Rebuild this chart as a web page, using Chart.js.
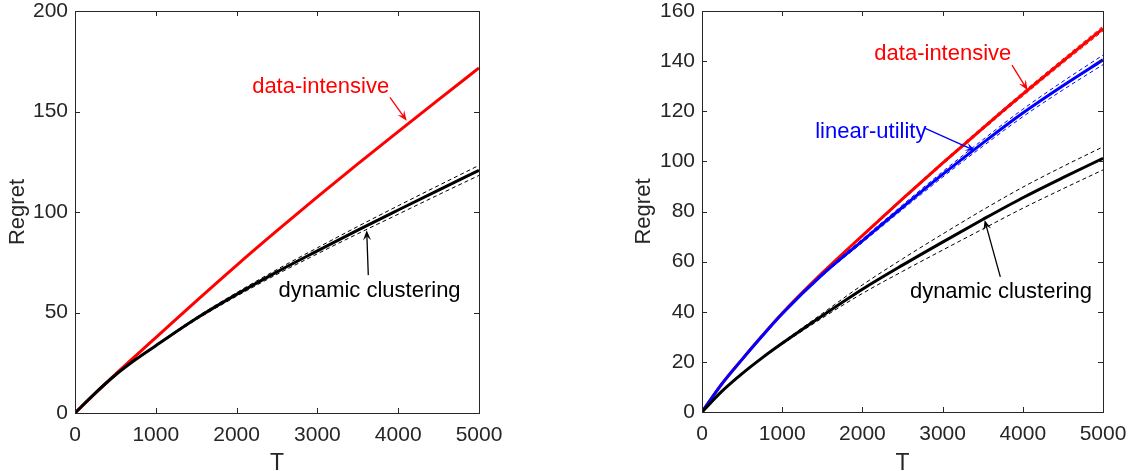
<!DOCTYPE html>
<html>
<head>
<meta charset="utf-8">
<script src="https://cdn.jsdelivr.net/npm/chart.js@4/dist/chart.umd.min.js"></script>
<style>
  body { margin: 0; background: #fff; }
  #wrap { position: relative; width: 1131px; height: 471px; overflow: hidden; }
  #leftChart { position: absolute; left: 0; top: 0; }
  #rightChart { position: absolute; left: 600px; top: 0; }
</style>
</head>
<body>
<div id="wrap">
  <canvas id="leftChart" width="540" height="471"></canvas>
  <canvas id="rightChart" width="531" height="471"></canvas>
</div>
<script>
// horizon T (shared by both panels)
var T = [0, 250, 500, 750, 1000, 1500, 2000, 2500, 3000, 3500, 4000, 4500, 5000];

// left panel
var leftDataIntensive = [0, 9.7, 19.2, 28.4, 37.5, 55.7, 73.5, 90.7, 107.5, 123.9, 140, 155.9, 171.7];
var leftDynamic       = [0, 9.9, 18.9, 26.6, 33.5, 47, 59, 70.2, 80.7, 91, 101, 110.9, 120.7];
var leftDynUpper      = [0, 9.95, 19, 26.8, 33.8, 47.6, 59.9, 71.4, 82.2, 92.8, 103.1, 113.2, 123.2];
var leftDynLower      = [0, 9.85, 18.8, 26.4, 33.2, 46.4, 58.1, 69, 79.2, 89.2, 98.9, 108.6, 118.2];

// right panel
var rightDataIntensive = [0, 11.3, 21, 30.4, 39.4, 55.5, 70.4, 85, 99.3, 113.2, 126.8, 140, 153];
var rightDIUpper       = [0, 11.3, 21.05, 30.5, 39.55, 55.75, 70.75, 85.45, 99.85, 113.85, 127.55, 140.85, 153.95];
var rightDILower       = [0, 11.3, 20.95, 30.3, 39.25, 55.25, 70.05, 84.55, 98.75, 112.55, 126.05, 139.15, 152.05];
var rightLinear        = [0, 11.3, 21, 30.3, 39.2, 54.8, 68.3, 81.7, 94.8, 107.3, 119.3, 130.2, 140.5];
var rightLinUpper      = [0, 11.35, 21.1, 30.5, 39.5, 55.3, 69, 82.6, 95.9, 108.6, 120.8, 131.9, 142.4];
var rightLinLower      = [0, 11.25, 20.9, 30.1, 38.9, 54.3, 67.6, 80.8, 93.7, 106, 117.8, 128.5, 138.6];
var rightDynamic       = [0, 8.3, 15.3, 21.6, 27.4, 38.4, 49, 58.6, 67.8, 76.8, 85.5, 93.5, 101.2];
var rightDynUpper      = [0, 8.35, 15.4, 21.8, 27.8, 39.3, 50.7, 61.1, 71, 80.6, 89.7, 97.95, 105.8];
var rightDynLower      = [0, 8.25, 15.2, 21.4, 27, 37.5, 47.3, 56.1, 64.6, 73, 81.3, 89.05, 96.6];

var xTicks = [0, 1000, 2000, 3000, 4000, 5000];

var FONT = "'Liberation Sans', Arial, sans-serif";
var AXIS = '#262626';

function pts(ys) {
    return T.map(function (t, i) { return { x: t, y: ys[i] }; });
}
function solid(ys, color) {
    return { data: pts(ys), borderColor: color, borderWidth: 3, pointRadius: 0, cubicInterpolationMode: 'monotone' };
}
function dashed(ys, color) {
    return { data: pts(ys), borderColor: color, borderWidth: 1, borderDash: [4, 3], pointRadius: 0, cubicInterpolationMode: 'monotone' };
}

// MATLAB style box with inward ticks on all four sides
var boxPlugin = {
    id: 'boxTicks',
    afterDatasetsDraw: function (chart) {
        var ctx = chart.ctx, a = chart.chartArea, sx = chart.scales.x, sy = chart.scales.y;
        ctx.save();
        ctx.strokeStyle = AXIS;
        ctx.lineWidth = 1;
        ctx.strokeRect(Math.round(a.left) + 0.5, Math.round(a.top) + 0.5,
            Math.round(a.right - a.left), Math.round(a.bottom - a.top));
        ctx.beginPath();
        sx.ticks.forEach(function (t) {
            var px = Math.round(sx.getPixelForValue(t.value)) + 0.5;
            ctx.moveTo(px, a.bottom); ctx.lineTo(px, a.bottom - 5);
            ctx.moveTo(px, a.top); ctx.lineTo(px, a.top + 5);
        });
        sy.ticks.forEach(function (t) {
            var py = Math.round(sy.getPixelForValue(t.value)) + 0.5;
            ctx.moveTo(a.left, py); ctx.lineTo(a.left + 5, py);
            ctx.moveTo(a.right, py); ctx.lineTo(a.right - 5, py);
        });
        ctx.stroke();
        ctx.restore();
    }
};

// text labels with arrows, positions given in data units
var notePlugin = {
    id: 'arrowNotes',
    afterDraw: function (chart, args, opts) {
        var ctx = chart.ctx, sx = chart.scales.x, sy = chart.scales.y;
        (opts.items || []).forEach(function (n) {
            ctx.save();
            ctx.fillStyle = n.color;
            ctx.strokeStyle = n.color;
            ctx.font = '22px ' + FONT;
            ctx.textAlign = 'center';
            ctx.textBaseline = 'alphabetic';
            ctx.fillText(n.text, sx.getPixelForValue(n.x), sy.getPixelForValue(n.y));
            var x0 = sx.getPixelForValue(n.from[0]), y0 = sy.getPixelForValue(n.from[1]);
            var x1 = sx.getPixelForValue(n.to[0]), y1 = sy.getPixelForValue(n.to[1]);
            var ang = Math.atan2(y1 - y0, x1 - x0);
            ctx.lineWidth = 1.3;
            ctx.beginPath();
            ctx.moveTo(x0, y0);
            ctx.lineTo(x1 - 6 * Math.cos(ang), y1 - 6 * Math.sin(ang));
            ctx.stroke();
            // vback-style head
            var L = 10, W = 4;
            ctx.beginPath();
            ctx.moveTo(x1, y1);
            ctx.lineTo(x1 - L * Math.cos(ang) + W * Math.sin(ang), y1 - L * Math.sin(ang) - W * Math.cos(ang));
            ctx.lineTo(x1 - 0.6 * L * Math.cos(ang), y1 - 0.6 * L * Math.sin(ang));
            ctx.lineTo(x1 - L * Math.cos(ang) - W * Math.sin(ang), y1 - L * Math.sin(ang) + W * Math.cos(ang));
            ctx.closePath();
            ctx.fill();
            ctx.restore();
        });
    }
};

function makeOptions(yMax, yStep, yAxisWidth, titlePad, rightPad, xHeight, notes) {
    return {
        responsive: false,
        animation: false,
        layout: { padding: { top: 11, right: rightPad, bottom: 0, left: 0 } },
        plugins: {
            legend: { display: false },
            tooltip: { enabled: false },
            arrowNotes: { items: notes }
        },
        scales: {
            x: {
                type: 'linear', min: 0, max: 5000,
                grid: { display: false, drawTicks: false },
                border: { display: false },
                afterBuildTicks: function (s) { s.ticks = xTicks.map(function (v) { return { value: v }; }); },
                ticks: {
                    color: AXIS, font: { family: FONT, size: 21 }, padding: 10, maxRotation: 0, autoSkip: false,
                    callback: function (v) { return String(v); }
                },
                title: { display: true, text: 'T', color: AXIS, font: { family: FONT, size: 23, lineHeight: 0.6 }, padding: 0 },
                afterFit: function (s) { s.height = xHeight; s.paddingLeft = 0; s.paddingRight = 0; }
            },
            y: {
                type: 'linear', min: 0, max: yMax,
                grid: { display: false, drawTicks: false },
                border: { display: false },
                ticks: { stepSize: yStep, color: AXIS, font: { family: FONT, size: 21 }, padding: 7 },
                title: { display: true, text: 'Regret', color: AXIS, font: { family: FONT, size: 22 }, padding: { top: titlePad, bottom: 0 } },
                afterFit: function (s) { s.width = yAxisWidth; s.paddingTop = 0; s.paddingBottom = 0; }
            }
        }
    };
}

var leftNotes = [
    { text: 'data-intensive', color: '#ff0000', x: 3040, y: 159, from: [3898, 157], to: [4105, 145.4] },
    { text: 'dynamic clustering', color: '#000000', x: 3645, y: 57.8, from: [3630, 68.6], to: [3610, 90.9] }
];
var rightNotes = [
    { text: 'data-intensive', color: '#ff0000', x: 3003, y: 140.4, from: [3865, 138.4], to: [4060, 128.4] },
    { text: 'linear-utility', color: '#0000ff', x: 2105, y: 109.2, from: [2784, 113.2], to: [3408, 104.2] },
    { text: 'dynamic clustering', color: '#000000', x: 3728, y: 45.3, from: [3720, 53.9], to: [3524, 76.6] }
];

// Chart.js paints the first dataset on top, so the list runs top layer first
var chart1 = new Chart(document.getElementById('leftChart').getContext('2d'), {
    type: 'line',
    data: {
        datasets: [
            solid(leftDynamic, '#000000'),
            dashed(leftDynUpper, '#000000'),
            dashed(leftDynLower, '#000000'),
            solid(leftDataIntensive, '#ff0000')
        ]
    },
    options: makeOptions(200, 50, 75, 5, 61, 58, leftNotes),
    plugins: [boxPlugin, notePlugin]
});

var chart2 = new Chart(document.getElementById('rightChart').getContext('2d'), {
    type: 'line',
    data: {
        datasets: [
            solid(rightDynamic, '#000000'),
            dashed(rightDynUpper, '#000000'),
            dashed(rightDynLower, '#000000'),
            solid(rightLinear, '#0000ff'),
            dashed(rightLinUpper, '#0000ff'),
            dashed(rightLinLower, '#0000ff'),
            solid(rightDataIntensive, '#ff0000'),
            dashed(rightDIUpper, '#ff0000'),
            dashed(rightDILower, '#ff0000')
        ]
    },
    options: makeOptions(160, 20, 102, 31, 28, 59, rightNotes),
    plugins: [boxPlugin, notePlugin]
});
</script>
</body>
</html>
